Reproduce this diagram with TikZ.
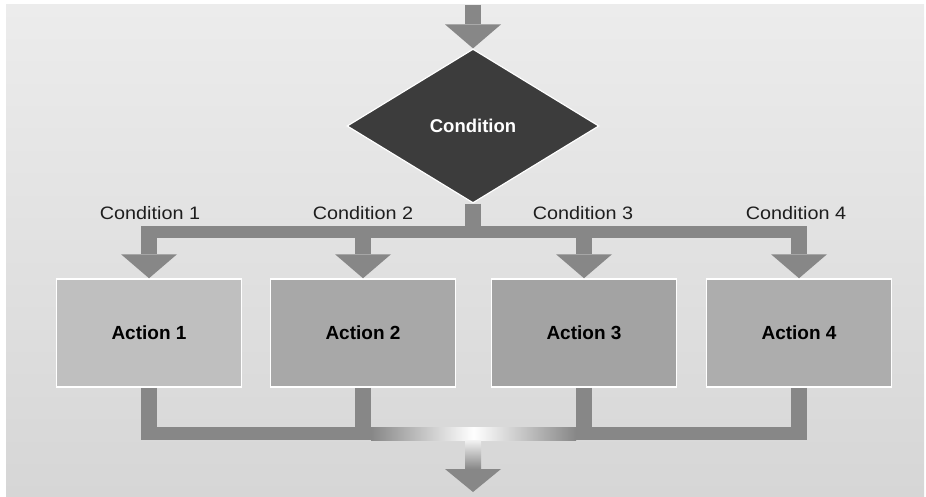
\documentclass[tikz,border=0pt]{standalone}
\usepackage{fontspec}
\setmainfont{Liberation Sans}
\newfontfamily\widefont[FakeStretch=1.1]{Liberation Sans}
\usetikzlibrary{arrows.meta,shapes.geometric}
\definecolor{flowgray}{HTML}{878787}
\definecolor{diagray}{HTML}{3C3C3C}
\definecolor{bgtop}{HTML}{ECECEC}
\definecolor{bgbot}{HTML}{D6D6D6}
\definecolor{lbltext}{HTML}{1E1E1E}
\tikzset{box/.style={draw=white,line width=1.5pt,minimum width=185pt,minimum height=108pt,inner sep=0pt,
    font=\fontsize{19}{22}\selectfont\bfseries,text=black},
  decision/.style={diamond,draw=white,line width=1.2pt,fill=diagray,minimum width=252pt,minimum height=154pt,
    inner sep=0pt,text=white,font=\fontsize{18.5}{22}\selectfont\bfseries},
  lbl/.style={text=lbltext,inner sep=0pt,font=\widefont\fontsize{18}{21}\selectfont},
  shaft/.style={flowgray,line width=16pt},
  bus/.style={flowgray,line width=12pt},
  arr/.style={shaft,-{Triangle[length=24pt,width=56pt,line width=0pt]}}}

\begin{document}
\begin{tikzpicture}[x=1pt,y=-1pt]
\useasboundingbox (0,0) rectangle (926,497);
\shade[top color=bgtop,bottom color=bgbot] (6,5) rectangle (924,497);
% decision and actions
\node[decision] (cond) at (473,126) {Condition};
\node[box,fill=black!25] (act1) at (149,333) {Action 1};
\node[box,fill=black!34] (act2) at (363,333) {Action 2};
\node[box,fill=black!36] (act3) at (584,333) {Action 3};
\node[box,fill=black!32] (act4) at (799,333) {Action 4};
\node[lbl] (lab1) at (150,213) {Condition 1};
\node[lbl] (lab2) at (363,213) {Condition 2};
\node[lbl] (lab3) at (583,213) {Condition 3};
\node[lbl] (lab4) at (796,213) {Condition 4};
\coordinate (in) at (473,5);
\coordinate (split) at (473,232);
\coordinate (join) at (473,433.5);
\coordinate (out) at (473,492);
% incoming flow
\draw[arr] (in) -- (cond.north);
% branches
\draw[shaft] (cond.south) -- (split);
\draw[bus] ([xshift=-8pt]act1.north |- split) -- ([xshift=8pt]act4.north |- split);
\draw[arr] (act1.north |- split) -- (act1.north);
\draw[arr] (act2.north |- split) -- (act2.north);
\draw[arr] (act3.north |- split) -- (act3.north);
\draw[arr] (act4.north |- split) -- (act4.north);
% merge
\draw[shaft] (act1.south) -- (act1.south |- join);
\draw[shaft] (act2.south) -- (act2.south |- join);
\draw[shaft] (act3.south) -- (act3.south |- join);
\draw[shaft] (act4.south) -- (act4.south |- join);
\draw[bus,line width=13pt] ([xshift=-8pt]act1.south |- join) -- ([xshift=8pt]act2.south |- join);
\draw[bus,line width=13pt] ([xshift=-8pt]act3.south |- join) -- ([xshift=8pt]act4.south |- join);
\shade[left color=flowgray,right color=flowgray,middle color=white]
  ([xshift=8pt,yshift=6.5pt]act2.south |- join) rectangle ([xshift=-8pt,yshift=-6.5pt]act3.south |- join);
\shade[top color=white!90!flowgray,bottom color=flowgray]
  ([xshift=-8pt,yshift=-6.5pt]join) rectangle ([xshift=8pt,yshift=23pt]out);
\fill[flowgray] ([xshift=-28pt,yshift=23pt]out) -- ([xshift=28pt,yshift=23pt]out) -- (out) -- cycle;
\end{tikzpicture}
\end{document}
